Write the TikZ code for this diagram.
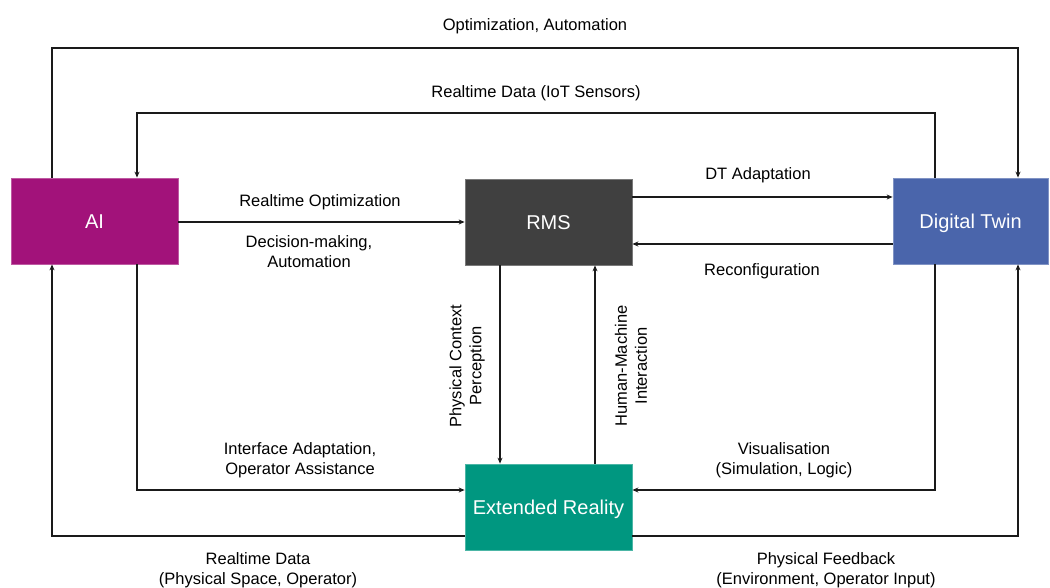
\documentclass[tikz,border=0pt]{standalone}
\usepackage{fontspec}
\setmainfont{Liberation Sans}
\usetikzlibrary{arrows.meta,calc}
\definecolor{aicol}{HTML}{A2127A}
\definecolor{rmscol}{HTML}{404040}
\definecolor{dtcol}{HTML}{4A65AB}
\definecolor{xrcol}{HTML}{009780}
\definecolor{linecol}{HTML}{1A1A1A}
\tikzset{
  block/.style={minimum width=167pt, minimum height=86pt, inner sep=0pt,
    text height=16pt, text depth=1.5pt,
    text=white, font=\fontsize{20}{24}\selectfont, line width=0.8pt},
  arr/.style={draw=linecol, line width=1.2pt, -{Stealth[length=6pt,width=5pt]}},
  lbl/.style={font=\fontsize{16.5}{20}\selectfont, align=center, inner sep=0pt, text=black},
}
\begin{document}
\begin{tikzpicture}[x=1pt,y=-1pt]
\useasboundingbox (0,0) rectangle (1050,588);

% blocks
\node[block, fill=aicol, draw=aicol!70!white] (ai) at (94.5,221) {AI};
\node[block, fill=rmscol, draw=rmscol!70!white] (rms) at (548.5,222) {RMS};
\node[block, fill=dtcol, draw=dtcol!70!white, minimum width=155pt] (dt) at (970.5,221) {Digital Twin};
\node[block, fill=xrcol, draw=xrcol!70!white] (xr) at (548.5,507) {Extended Reality};

% routing points
\coordinate (tl) at (52,48);   \coordinate (tr) at (1018,48);
\coordinate (ml) at (137,113); \coordinate (mr) at (935,113);
\coordinate (bl) at (137,490); \coordinate (br) at (935,490);
\coordinate (ll) at (52,536);  \coordinate (lr) at (1018,536);

% outer loops
\draw[arr] (ai.north -| tl) -- (tl) -- (tr) -- (dt.north -| tr);
\draw[arr] (dt.north -| mr) -- (mr) -- (ml) -- (ai.north -| ml);

% horizontal links around RMS
\draw[arr] (ai.east |- rms.west) -- (rms.west);
\draw[arr] (rms.east |- 0,197) -- (dt.west |- 0,197);
\draw[arr] (dt.west |- 0,244) -- (rms.east |- 0,244);

% vertical links RMS / XR
\draw[arr] (rms.south -| 500,0) -- (xr.north -| 500,0);
\draw[arr] (xr.north -| 595,0) -- (rms.south -| 595,0);

% links into XR
\draw[arr] (ai.south -| bl) -- (bl) -- (xr.west |- bl);
\draw[arr] (dt.south -| br) -- (br) -- (xr.east |- br);

% links out of XR
\draw[arr] (xr.west |- ll) -- (ll) -- (ai.south -| ll);
\draw[arr] (xr.east |- lr) -- (lr) -- (dt.south -| lr);

% labels
\node[lbl] (l1) at (535,26) {Optimization, Automation};
\node[lbl] (l2) at (536,93) {Realtime Data (IoT Sensors)};
\node[lbl] (l3) at (320,202) {Realtime Optimization};
\node[lbl] (l4) at (309,252) {Decision-making,\\Automation};
\node[lbl] (l5) at (758,175) {DT Adaptation};
\node[lbl] (l6) at (762,271) {Reconfiguration};
\node[lbl, rotate=90] (l7) at (467,366) {Physical Context\\Perception};
\node[lbl, rotate=90] (l8) at (631,366) {Human-Machine\\Interaction};
\node[lbl] (l9) at (300,460) {Interface Adaptation,\\Operator Assistance};
\node[lbl] (l10) at (784,460) {Visualisation\\(Simulation, Logic)};
\node[lbl] (l11) at (258,570) {Realtime Data\\(Physical Space, Operator)};
\node[lbl] (l12) at (826,570) {Physical Feedback\\(Environment, Operator Input)};
\end{tikzpicture}
\end{document}
